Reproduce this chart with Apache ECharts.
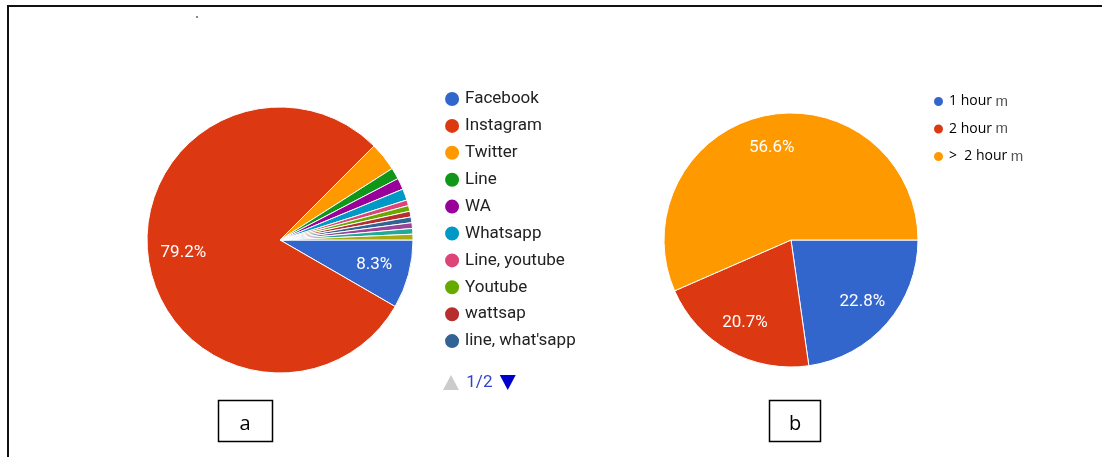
<!DOCTYPE html>
<html>
<head>
<meta charset="utf-8">
<script src="https://cdn.jsdelivr.net/npm/echarts@6/dist/echarts.min.js"></script>
<style>
html,body{margin:0;padding:0;background:#fff;}
#c{width:1102px;height:457px;}
</style>
</head>
<body>
<div id="c"></div>
<script>
// Chart a: platforms (counts of responses, 144 in total)
const platformNames = ['Facebook','Instagram','Twitter','Line','WA','Whatsapp','Line, youtube','Youtube','wattsap','line, what\'sapp','Tiktok','Telegram','Snapchat'];
const platformValues = [12,114,5,2,2,2,1,1,1,1,1,1,1];
const platformColors = ['#3366CC','#DC3912','#FF9900','#109618','#990099','#0099C6','#DD4477','#66AA00','#B82E2E','#316395','#994499','#22AA99','#AAAA11'];

// Chart b: time spent (145 responses)
const timeNames = ['1 hour','2 hour','>  2 hour'];
const timeValues = [33,30,82];
const timeColors = ['#3366CC','#DC3912','#FF9900'];

const panelLabels = ['a','b'];

const chart = echarts.init(document.getElementById('c'), null, {renderer:'canvas'});

function mkData(names, values, colors, transparent){
  return names.map((n,i)=>({name:n, value:values[i],
    itemStyle:{color: transparent ? 'rgba(0,0,0,0)' : colors[i]}}));
}
function labelFmt(values){
  const total = values.reduce((s,v)=>s+v,0);
  return p => {
    const pct = p.value / total * 100;
    return pct >= 5 ? pct.toFixed(1) + '%' : '';
  };
}

const baseFont = 'Roboto, "Noto Sans", Arial, sans-serif';
const wordFont = '"Open Sans", "Liberation Sans", sans-serif';
const padW = 76;

const option = {
  animation:false,
  backgroundColor:'#fff',
  legend:[{
    type:'scroll',
    orient:'vertical',
    left:438, top:85, height:301,
    data: platformNames,
    icon:'circle',
    itemWidth:16, itemHeight:16, itemGap:8.9,
    textStyle:{fontSize:17, color:'#222', fontFamily:baseFont},
    pageButtonItemGap:0,
    pageButtonGap:22,
    pageIcons:{vertical:['M0,15L8,0L16,15z', 'M0,0L16,0L8,15z M' + padW + ',0']},
    pageIconSize:[padW,15],
    pageIconColor:'#0000CC',
    pageIconInactiveColor:'#CCCCCC',
    pageTextStyle:{color:'#3344CC', fontSize:17, fontFamily:baseFont}
  },{
    orient:'vertical',
    left:927, top:89,
    data: timeNames,
    icon:'circle',
    itemWidth:11, itemHeight:11, itemGap:12.5,
    formatter: n => n + ' {m|m}',
    textStyle:{fontSize:14, color:'#000', fontFamily:wordFont,
      rich:{m:{fontSize:15, color:'#555', fontFamily:'"Liberation Sans", sans-serif'}}}
  }],
  series:[
    {
      type:'pie', name:'a', center:[280,240], radius:[0,133],
      startAngle:0, clockwise:true, avoidLabelOverlap:false,
      data: mkData(platformNames, platformValues, platformColors, false),
      itemStyle:{borderColor:'#fff', borderWidth:1},
      label:{show:false}, labelLine:{show:false},
      emphasis:{scale:false}
    },
    {
      type:'pie', name:'a-labels', center:[280,240], radius:[56,133], silent:true,
      startAngle:0, clockwise:true, avoidLabelOverlap:false,
      data: mkData(platformNames, platformValues, platformColors, true),
      itemStyle:{borderWidth:0},
      label:{show:true, position:'inside', formatter:labelFmt(platformValues), color:'#fff', fontSize:17, fontFamily:baseFont},
      labelLine:{show:false}
    },
    {
      type:'pie', name:'b', center:[791,240], radius:[0,127],
      startAngle:0, clockwise:true, avoidLabelOverlap:false,
      data: mkData(timeNames, timeValues, timeColors, false),
      itemStyle:{borderColor:'#fff', borderWidth:1},
      label:{show:false}, labelLine:{show:false},
      emphasis:{scale:false}
    },
    {
      type:'pie', name:'b-labels', center:[791,240], radius:[56,127], silent:true,
      startAngle:0, clockwise:true, avoidLabelOverlap:false,
      data: mkData(timeNames, timeValues, timeColors, true),
      itemStyle:{borderWidth:0},
      label:{show:true, position:'inside', formatter:labelFmt(timeValues), color:'#fff', fontSize:17, fontFamily:baseFont},
      labelLine:{show:false}
    }
  ],
  graphic:[
    {type:'line', shape:{x1:7, y1:6, x2:1102, y2:6}, style:{stroke:'#111', lineWidth:2}},
    {type:'line', shape:{x1:8, y1:5, x2:8, y2:457}, style:{stroke:'#111', lineWidth:2}},
    {type:'rect', shape:{x:196, y:16, width:2, height:2}, style:{fill:'#888'}},
    {type:'rect', shape:{x:218.5, y:400.5, width:54, height:41}, style:{fill:'#fff', stroke:'#000', lineWidth:1.5}},
    {type:'text', x:245, y:424, style:{text:panelLabels[0], fontSize:20, fill:'#000', align:'center', verticalAlign:'middle', fontFamily:wordFont}},
    {type:'rect', shape:{x:769.5, y:400.5, width:51, height:41}, style:{fill:'#fff', stroke:'#000', lineWidth:1.5}},
    {type:'text', x:795, y:424, style:{text:panelLabels[1], fontSize:20, fill:'#000', align:'center', verticalAlign:'middle', fontFamily:wordFont}}
  ]
};
chart.setOption(option);
</script>
</body>
</html>
